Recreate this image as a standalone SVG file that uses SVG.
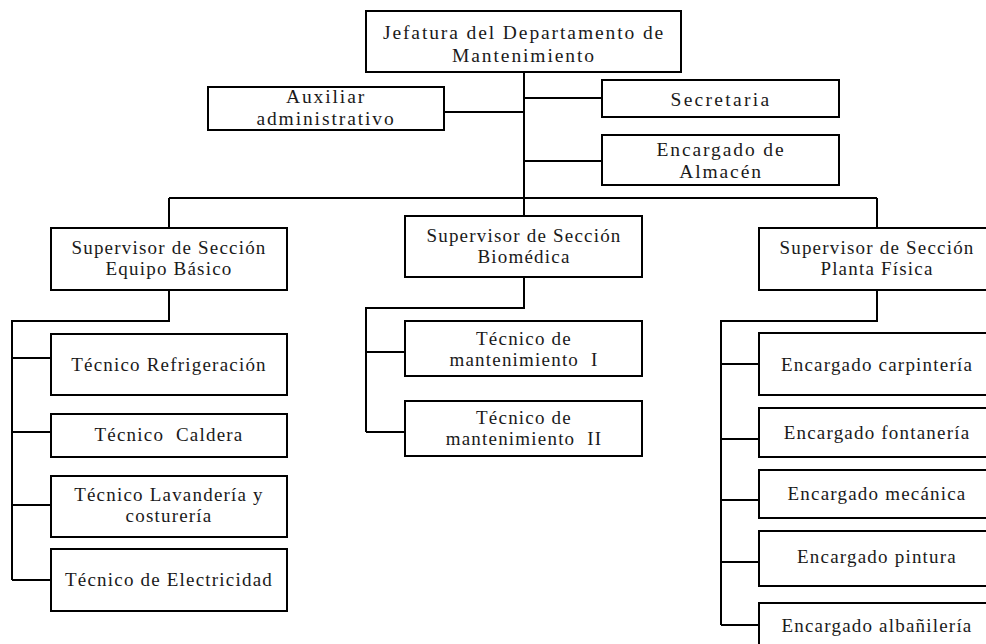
<svg xmlns="http://www.w3.org/2000/svg" width="986" height="644" viewBox="0 0 986 644">
  <style>
    .box { fill: #ffffff; stroke: #000000; stroke-width: 2; }
    .wire { fill: none; stroke: #000000; stroke-width: 2; }
    text { font-family: "Liberation Serif", "DejaVu Serif", serif; fill: #1a1a1a; text-anchor: middle; }
    .t1 { font-size: 19.5px; letter-spacing: 1.9px; }
    .t2 { font-size: 19px; letter-spacing: 1.2px; }
  </style>
  <rect width="986" height="644" fill="#ffffff"/>

  <!-- connectors -->
  <g id="connectors" class="wire">
    <!-- head trunk and staff branches -->
    <path d="M524 72 V216"/>
    <path d="M444 112 H524"/>
    <path d="M524 98 H602"/>
    <path d="M524 161 H602"/>
    <!-- section bus -->
    <path d="M169 198 H877"/>
    <path d="M169 198 V228"/>
    <path d="M877 198 V228"/>
    <!-- Equipo Básico staff -->
    <path d="M169 290 V321 H12 V580"/>
    <path d="M12 358 H51"/>
    <path d="M12 432 H51"/>
    <path d="M12 505 H51"/>
    <path d="M12 580 H51"/>
    <!-- Biomédica staff -->
    <path d="M524 277 V308 H366 V432"/>
    <path d="M366 352 H405"/>
    <path d="M366 432 H405"/>
    <!-- Planta Física staff -->
    <path d="M877 290 V321 H721 V625"/>
    <path d="M721 364 H759"/>
    <path d="M721 439 H759"/>
    <path d="M721 500 H759"/>
    <path d="M721 562 H759"/>
    <path d="M721 625 H759"/>
  </g>

  <!-- head of department -->
  <g id="jefatura">
    <rect class="box" x="366" y="11" width="315" height="61"/>
    <text class="t1" x="524" y="39">Jefatura del Departamento de</text>
    <text class="t1" x="524" y="62">Mantenimiento</text>
  </g>

  <!-- staff units -->
  <g id="auxiliar">
    <rect class="box" x="208" y="87" width="236" height="43"/>
    <text class="t1" x="326" y="103">Auxiliar</text>
    <text class="t1" x="326" y="125">administrativo</text>
  </g>
  <g id="secretaria">
    <rect class="box" x="602" y="80" width="237" height="37"/>
    <text class="t1" x="721" y="106" style="letter-spacing:2.3px">Secretaria</text>
  </g>
  <g id="almacen">
    <rect class="box" x="602" y="135" width="237" height="50"/>
    <text class="t1" x="721" y="156">Encargado de</text>
    <text class="t1" x="721" y="178">Almacén</text>
  </g>

  <!-- section supervisors -->
  <g id="sup-equipo">
    <rect class="box" x="51" y="228" width="236" height="62"/>
    <text class="t2" x="169" y="254">Supervisor de Sección</text>
    <text class="t2" x="169" y="275">Equipo Básico</text>
  </g>
  <g id="sup-biomedica">
    <rect class="box" x="405" y="216" width="237" height="61"/>
    <text class="t2" x="524" y="242">Supervisor de Sección</text>
    <text class="t2" x="524" y="263">Biomédica</text>
  </g>
  <g id="sup-planta">
    <rect class="box" x="759" y="228" width="236" height="62"/>
    <text class="t2" x="877" y="254">Supervisor de Sección</text>
    <text class="t2" x="877" y="275">Planta Física</text>
  </g>

  <!-- Equipo Básico technicians -->
  <g id="tec-refrigeracion">
    <rect class="box" x="51" y="334" width="236" height="61"/>
    <text class="t2" x="169" y="371">Técnico Refrigeración</text>
  </g>
  <g id="tec-caldera">
    <rect class="box" x="51" y="414" width="236" height="43"/>
    <text class="t2" x="169" y="441" xml:space="preserve">Técnico  Caldera</text>
  </g>
  <g id="tec-lavanderia">
    <rect class="box" x="51" y="476" width="236" height="61"/>
    <text class="t2" x="169" y="501">Técnico Lavandería y</text>
    <text class="t2" x="169" y="522">costurería</text>
  </g>
  <g id="tec-electricidad">
    <rect class="box" x="51" y="549" width="236" height="62"/>
    <text class="t2" x="169" y="586">Técnico de Electricidad</text>
  </g>

  <!-- Biomédica technicians -->
  <g id="tec-mant-1">
    <rect class="box" x="405" y="321" width="237" height="55"/>
    <text class="t2" x="524" y="345">Técnico de</text>
    <text class="t2" x="524" y="366" xml:space="preserve">mantenimiento  I</text>
  </g>
  <g id="tec-mant-2">
    <rect class="box" x="405" y="401" width="237" height="55"/>
    <text class="t2" x="524" y="424">Técnico de</text>
    <text class="t2" x="524" y="445" xml:space="preserve">mantenimiento  II</text>
  </g>

  <!-- Planta Física workers -->
  <g id="enc-carpinteria">
    <rect class="box" x="759" y="333" width="236" height="62"/>
    <text class="t2" x="877" y="371">Encargado carpintería</text>
  </g>
  <g id="enc-fontaneria">
    <rect class="box" x="759" y="408" width="236" height="49"/>
    <text class="t2" x="877" y="439">Encargado fontanería</text>
  </g>
  <g id="enc-mecanica">
    <rect class="box" x="759" y="470" width="236" height="48"/>
    <text class="t2" x="877" y="500">Encargado mecánica</text>
  </g>
  <g id="enc-pintura">
    <rect class="box" x="759" y="531" width="236" height="55"/>
    <text class="t2" x="877" y="563">Encargado pintura</text>
  </g>
  <g id="enc-albanileria">
    <rect class="box" x="759" y="603" width="236" height="50"/>
    <text class="t2" x="877" y="632">Encargado albañilería</text>
  </g>
</svg>
